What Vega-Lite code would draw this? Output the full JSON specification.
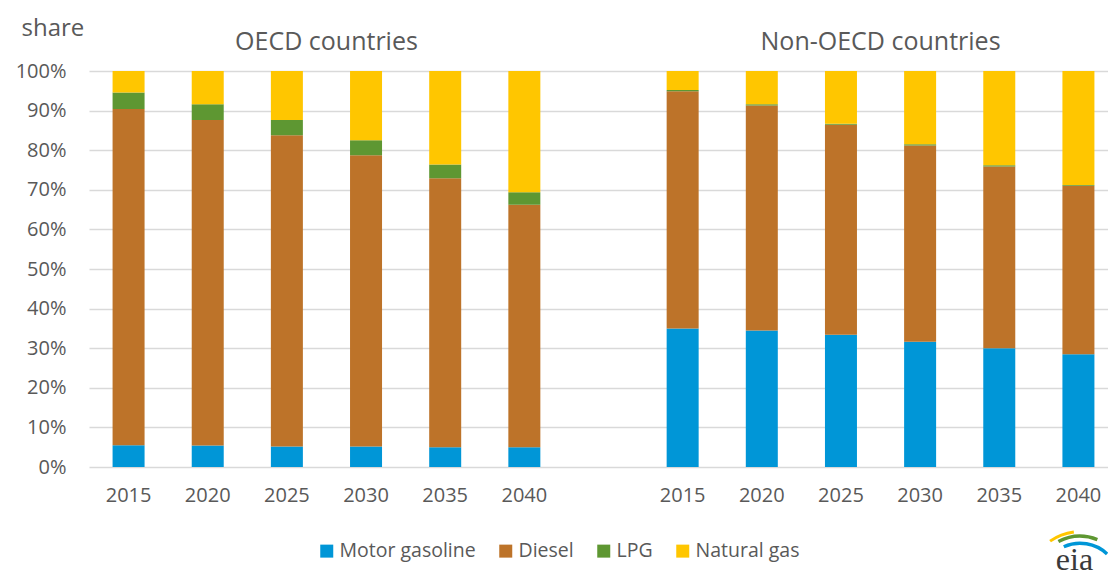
{
  "$schema": "https://vega.github.io/schema/vega-lite/v6.json",
  "width": 1019,
  "height": 396,
  "autosize": {"type": "none"},
  "padding": {"left": 89, "top": 71, "right": 0, "bottom": 111},
  "background": "white",
  "config": {
    "font": "Open Sans",
    "view": {"stroke": null},
    "axisY": {
      "labelOverlap": false,
      "domain": false,
      "ticks": false,
      "grid": true,
      "gridColor": "#d9d9d9",
      "gridWidth": 1.5,
      "labelFontSize": 20,
      "labelColor": "#595959",
      "labelPadding": 23,
      "titleAngle": 0,
      "titleAlign": "left",
      "titleBaseline": "alphabetic",
      "titleX": -68,
      "titleY": -36,
      "titleFontSize": 24,
      "titleFontWeight": "normal",
      "titleColor": "#595959"
    }
  },
  "data": {
    "values": [
      {"group": "OECD", "year": "2015", "fuel": "Motor gasoline", "share": 5.5},
      {"group": "OECD", "year": "2015", "fuel": "Diesel", "share": 84.9},
      {"group": "OECD", "year": "2015", "fuel": "LPG", "share": 4.2},
      {"group": "OECD", "year": "2015", "fuel": "Natural gas", "share": 5.4},
      {"group": "OECD", "year": "2020", "fuel": "Motor gasoline", "share": 5.4},
      {"group": "OECD", "year": "2020", "fuel": "Diesel", "share": 82.2},
      {"group": "OECD", "year": "2020", "fuel": "LPG", "share": 4.0},
      {"group": "OECD", "year": "2020", "fuel": "Natural gas", "share": 8.4},
      {"group": "OECD", "year": "2025", "fuel": "Motor gasoline", "share": 5.2},
      {"group": "OECD", "year": "2025", "fuel": "Diesel", "share": 78.6},
      {"group": "OECD", "year": "2025", "fuel": "LPG", "share": 3.8},
      {"group": "OECD", "year": "2025", "fuel": "Natural gas", "share": 12.4},
      {"group": "OECD", "year": "2030", "fuel": "Motor gasoline", "share": 5.2},
      {"group": "OECD", "year": "2030", "fuel": "Diesel", "share": 73.5},
      {"group": "OECD", "year": "2030", "fuel": "LPG", "share": 3.8},
      {"group": "OECD", "year": "2030", "fuel": "Natural gas", "share": 17.5},
      {"group": "OECD", "year": "2035", "fuel": "Motor gasoline", "share": 5.0},
      {"group": "OECD", "year": "2035", "fuel": "Diesel", "share": 67.9},
      {"group": "OECD", "year": "2035", "fuel": "LPG", "share": 3.5},
      {"group": "OECD", "year": "2035", "fuel": "Natural gas", "share": 23.6},
      {"group": "OECD", "year": "2040", "fuel": "Motor gasoline", "share": 5.0},
      {"group": "OECD", "year": "2040", "fuel": "Diesel", "share": 61.2},
      {"group": "OECD", "year": "2040", "fuel": "LPG", "share": 3.2},
      {"group": "OECD", "year": "2040", "fuel": "Natural gas", "share": 30.6},
      {"group": "Non-OECD", "year": "2015", "fuel": "Motor gasoline", "share": 35.0},
      {"group": "Non-OECD", "year": "2015", "fuel": "Diesel", "share": 59.9},
      {"group": "Non-OECD", "year": "2015", "fuel": "LPG", "share": 0.3},
      {"group": "Non-OECD", "year": "2015", "fuel": "Natural gas", "share": 4.8},
      {"group": "Non-OECD", "year": "2020", "fuel": "Motor gasoline", "share": 34.5},
      {"group": "Non-OECD", "year": "2020", "fuel": "Diesel", "share": 56.8},
      {"group": "Non-OECD", "year": "2020", "fuel": "LPG", "share": 0.3},
      {"group": "Non-OECD", "year": "2020", "fuel": "Natural gas", "share": 8.4},
      {"group": "Non-OECD", "year": "2025", "fuel": "Motor gasoline", "share": 33.4},
      {"group": "Non-OECD", "year": "2025", "fuel": "Diesel", "share": 53.0},
      {"group": "Non-OECD", "year": "2025", "fuel": "LPG", "share": 0.3},
      {"group": "Non-OECD", "year": "2025", "fuel": "Natural gas", "share": 13.3},
      {"group": "Non-OECD", "year": "2030", "fuel": "Motor gasoline", "share": 31.6},
      {"group": "Non-OECD", "year": "2030", "fuel": "Diesel", "share": 49.6},
      {"group": "Non-OECD", "year": "2030", "fuel": "LPG", "share": 0.3},
      {"group": "Non-OECD", "year": "2030", "fuel": "Natural gas", "share": 18.5},
      {"group": "Non-OECD", "year": "2035", "fuel": "Motor gasoline", "share": 30.0},
      {"group": "Non-OECD", "year": "2035", "fuel": "Diesel", "share": 45.9},
      {"group": "Non-OECD", "year": "2035", "fuel": "LPG", "share": 0.3},
      {"group": "Non-OECD", "year": "2035", "fuel": "Natural gas", "share": 23.8},
      {"group": "Non-OECD", "year": "2040", "fuel": "Motor gasoline", "share": 28.5},
      {"group": "Non-OECD", "year": "2040", "fuel": "Diesel", "share": 42.5},
      {"group": "Non-OECD", "year": "2040", "fuel": "LPG", "share": 0.2},
      {"group": "Non-OECD", "year": "2040", "fuel": "Natural gas", "share": 28.8}
    ]
  },
  "layer": [
    {
      "transform": [
        {"calculate": "datum.group + ' ' + datum.year", "as": "bar"},
        {"calculate": "indexof(['Motor gasoline','Diesel','LPG','Natural gas'], datum.fuel)", "as": "stackOrder"}
      ],
      "mark": {"type": "bar", "size": 32},
      "encoding": {
        "x": {
          "field": "bar",
          "type": "nominal",
          "title": null,
          "sort": null,
          "scale": {
            "domain": ["OECD 2015", "OECD 2020", "OECD 2025", "OECD 2030", "OECD 2035", "OECD 2040", "gap", "Non-OECD 2015", "Non-OECD 2020", "Non-OECD 2025", "Non-OECD 2030", "Non-OECD 2035", "Non-OECD 2040"],
            "range": [0, 1029],
            "paddingInner": 0,
            "paddingOuter": 0
          },
          "axis": {
            "domain": false,
            "ticks": false,
            "grid": false,
            "labelAngle": 0,
            "labelExpr": "datum.value == 'gap' ? '' : split(datum.value, ' ')[1]",
            "labelFontSize": 20,
            "labelColor": "#595959",
            "labelPadding": 18
          }
        },
        "y": {
          "field": "share",
          "type": "quantitative",
          "stack": "zero",
          "scale": {"domain": [0, 100], "nice": false},
          "axis": {"values": [0, 10, 20, 30, 40, 50, 60, 70, 80, 90, 100], "labelExpr": "datum.value + '%'", "title": "share"}
        },
        "color": {
          "field": "fuel",
          "type": "nominal",
          "scale": {
            "domain": ["Motor gasoline", "Diesel", "LPG", "Natural gas"],
            "range": ["#0096d7", "#bd7329", "#5e9732", "#ffc600"]
          },
          "legend": {
            "orient": "none",
            "direction": "horizontal",
            "legendX": 228,
            "legendY": 470,
            "title": null,
            "symbolType": "square",
            "symbolSize": 169,
            "symbolStrokeWidth": 0,
            "labelFontSize": 19.5,
            "labelColor": "#595959",
            "labelOffset": 3,
            "columnPadding": 20
          }
        },
        "order": {"field": "stackOrder", "type": "quantitative"}
      }
    },
    {
      "data": {"values": [{"label": "OECD countries", "anchor": "OECD 2025"}, {"label": "Non-OECD countries", "anchor": "Non-OECD 2025"}]},
      "mark": {"type": "text", "fontSize": 25, "color": "#595959", "align": "center", "baseline": "middle"},
      "encoding": {
        "x": {"field": "anchor", "type": "nominal", "bandPosition": 1},
        "y": {"datum": 107.3, "axis": {"values": [0, 10, 20, 30, 40, 50, 60, 70, 80, 90, 100], "labelExpr": "datum.value + '%'", "title": "share"}},
        "text": {"field": "label"}
      }
    },
    {
      "data": {"values": [{"label": "eia"}]},
      "mark": {"type": "text", "fontSize": 32, "font": "Liberation Serif", "color": "#3a3a3a", "align": "center", "baseline": "alphabetic"},
      "encoding": {
        "x": {"datum": "Non-OECD 2040", "bandPosition": 0.45},
        "y": {"datum": -26.0, "axis": {"values": [0, 10, 20, 30, 40, 50, 60, 70, 80, 90, 100], "labelExpr": "datum.value + '%'", "title": "share"}},
        "text": {"field": "label"}
      }
    },
    {
      "data": {"values": [{"arc": "yellow"}]},
      "mark": {"type": "arc", "radius": 50, "radius2": 53, "theta": -0.62, "theta2": -0.12, "color": "#ffc600"},
      "encoding": {
        "x": {"datum": "Non-OECD 2040", "bandPosition": 0.52},
        "y": {"datum": -29.3, "axis": {"values": [0, 10, 20, 30, 40, 50, 60, 70, 80, 90, 100], "labelExpr": "datum.value + '%'", "title": "share"}}
      }
    },
    {
      "data": {"values": [{"arc": "green"}]},
      "mark": {"type": "arc", "radius": 45, "radius2": 48.5, "theta": -0.48, "theta2": 0.38, "color": "#5e9732"},
      "encoding": {
        "x": {"datum": "Non-OECD 2040", "bandPosition": 0.52},
        "y": {"datum": -29.3, "axis": {"values": [0, 10, 20, 30, 40, 50, 60, 70, 80, 90, 100], "labelExpr": "datum.value + '%'", "title": "share"}}
      }
    },
    {
      "data": {"values": [{"arc": "blue"}]},
      "mark": {"type": "arc", "radius": 38, "radius2": 41.5, "theta": -0.42, "theta2": 0.75, "color": "#0096d7"},
      "encoding": {
        "x": {"datum": "Non-OECD 2040", "bandPosition": 0.52},
        "y": {"datum": -29.3, "axis": {"values": [0, 10, 20, 30, 40, 50, 60, 70, 80, 90, 100], "labelExpr": "datum.value + '%'", "title": "share"}}
      }
    }
  ]
}
